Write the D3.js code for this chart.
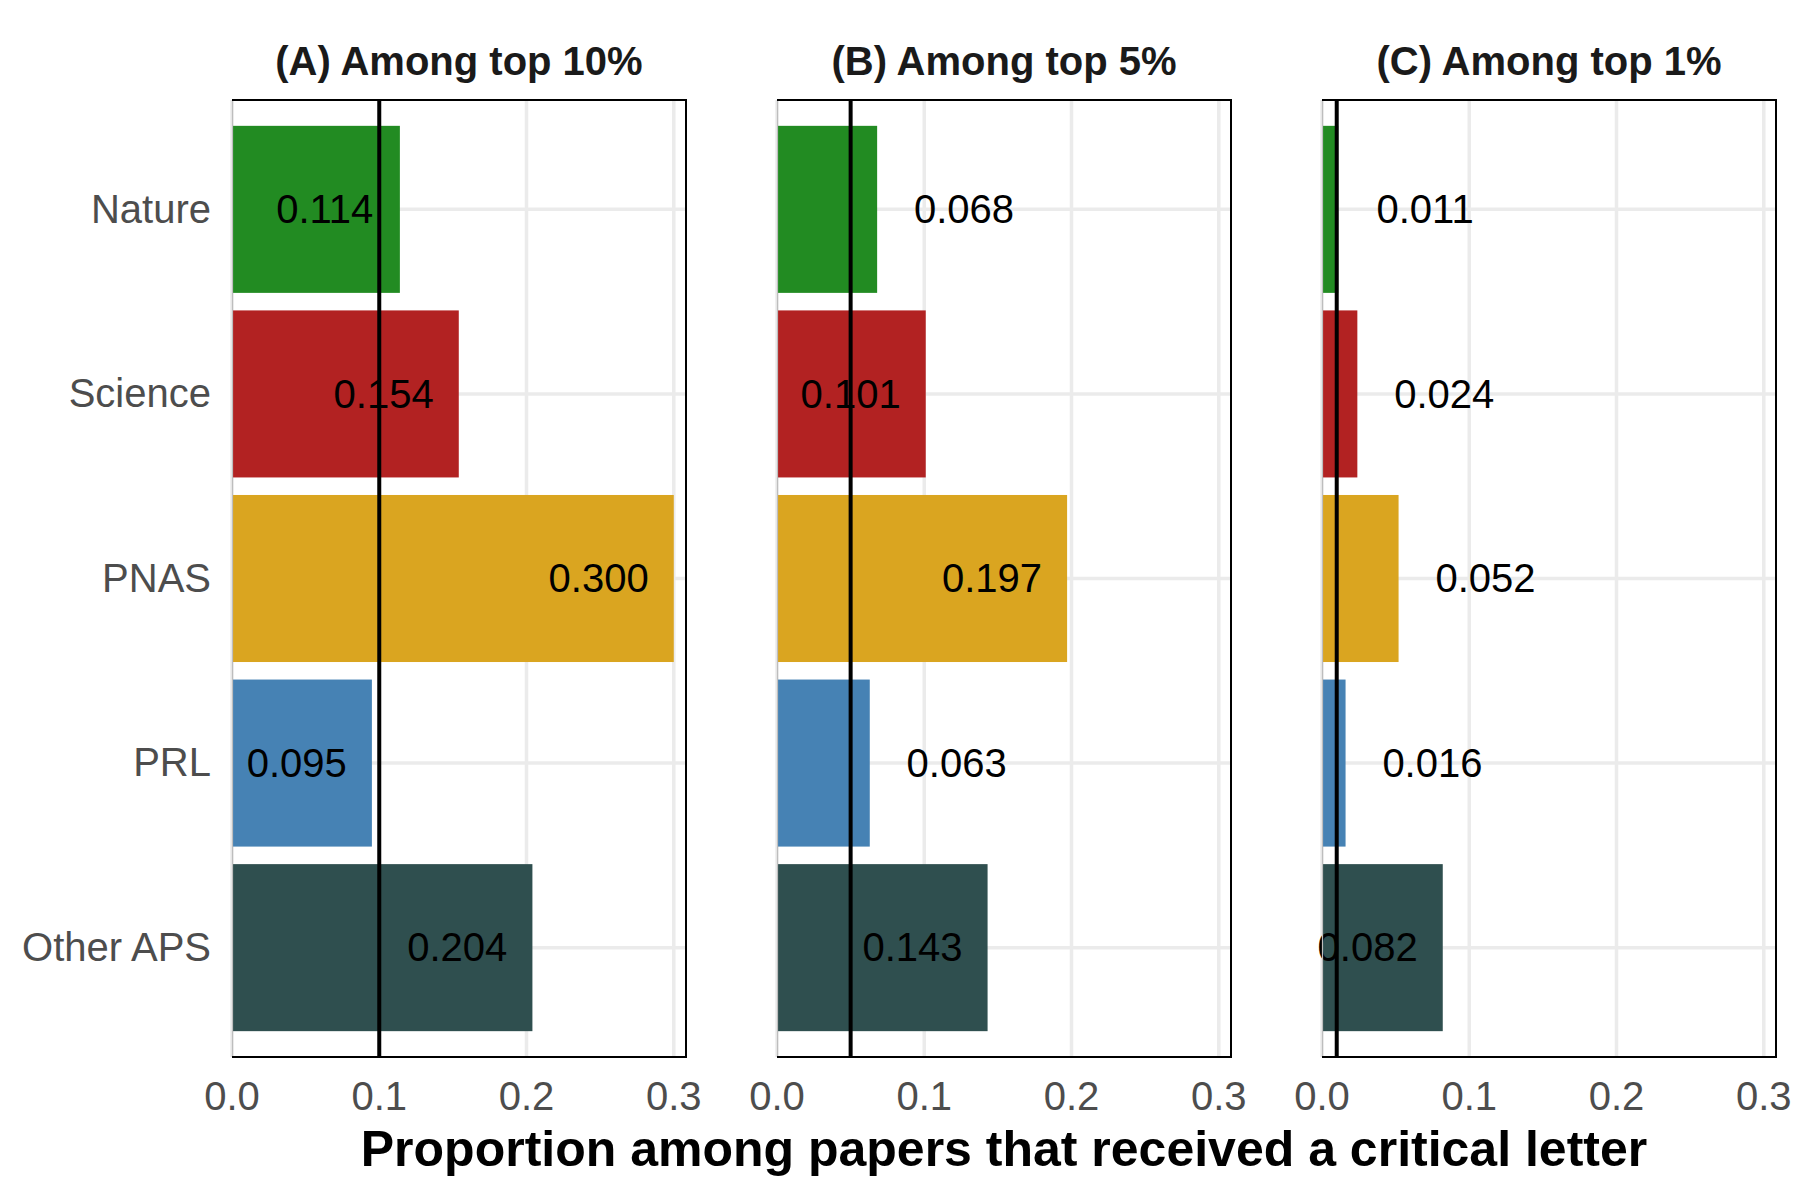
<!DOCTYPE html>
<html>
<head>
<meta charset="utf-8">
<script src="https://cdn.jsdelivr.net/npm/d3@7"></script>
<style>
  body { margin: 0; background: #fff; }
  text { font-family: "Liberation Sans", Arial, Helvetica, sans-serif; }
</style>
</head>
<body>
<svg id="chart" width="1800" height="1200"></svg>
<script>
// Data
const journals = ["Nature", "Science", "PNAS", "PRL", "Other APS"];
const top10 = [0.114, 0.154, 0.300, 0.095, 0.204];
const top5 = [0.068, 0.101, 0.197, 0.063, 0.143];
const top1 = [0.011, 0.024, 0.052, 0.016, 0.082];
const panelTitles = ["(A) Among top 10%", "(B) Among top 5%", "(C) Among top 1%"];
const refValues = [0.10, 0.05, 0.01];
const xTicks = [0, 0.1, 0.2, 0.3];
const colors = ["#228B22", "#B22222", "#DAA520", "#4682B4", "#2F4F4F"];
const xTitle = "Proportion among papers that received a critical letter";

const panels = [top10, top5, top1];

const svg = d3.select("#chart");
const plotTop = 100, plotBottom = 1057;
const panelLefts = [232, 777, 1322];
const panelW = 454;

const yScale = d3.scaleBand()
  .domain(journals)
  .range([plotTop, plotBottom])
  .paddingInner(0.095)
  .paddingOuter(0.14);

const color = d3.scaleOrdinal().domain(journals).range(colors);

panels.forEach((values, p) => {
  const left = panelLefts[p];
  const x = d3.scaleLinear().domain([0, 0.3083]).range([left, left + panelW]);
  const g = svg.append("g");

  // gridlines
  g.selectAll(".vgrid")
    .data(xTicks)
    .join("line")
    .attr("x1", d => x(d)).attr("x2", d => x(d))
    .attr("y1", plotTop).attr("y2", plotBottom)
    .attr("stroke", "#EBEBEB")
    .attr("stroke-width", 3.5);

  g.selectAll(".hgrid")
    .data(journals)
    .join("line")
    .attr("x1", left).attr("x2", left + panelW)
    .attr("y1", d => yScale(d) + yScale.bandwidth() / 2)
    .attr("y2", d => yScale(d) + yScale.bandwidth() / 2)
    .attr("stroke", "#EBEBEB")
    .attr("stroke-width", 3.5);

  // bars
  g.selectAll(".bar")
    .data(values)
    .join("rect")
    .attr("x", x(0))
    .attr("y", (d, i) => yScale(journals[i]))
    .attr("width", d => x(d) - x(0))
    .attr("height", yScale.bandwidth())
    .attr("fill", (d, i) => color(journals[i]));

  // value labels: inside the bar when it is long enough, otherwise right of it
  g.selectAll(".lab")
    .data(values)
    .join("text")
    .attr("x", d => d >= 0.075 ? x(d - 0.051) : x(d + 0.059))
    .attr("y", (d, i) => yScale(journals[i]) + yScale.bandwidth() / 2)
    .attr("dy", "0.34em")
    .attr("text-anchor", "middle")
    .attr("font-size", 40)
    .attr("fill", "#000")
    .text(d => d.toFixed(3));

  // reference line
  g.append("line")
    .attr("x1", x(refValues[p])).attr("x2", x(refValues[p]))
    .attr("y1", plotTop).attr("y2", plotBottom)
    .attr("stroke", "#000")
    .attr("stroke-width", 4);

  // panel border (left side light)
  g.append("line")
    .attr("x1", left + 0.5).attr("x2", left + 0.5)
    .attr("y1", plotTop).attr("y2", plotBottom)
    .attr("stroke", "#BDBDBD")
    .attr("stroke-width", 1.2);
  g.append("path")
    .attr("d", `M${left},${plotTop}H${left + panelW}V${plotBottom}H${left}`)
    .attr("fill", "none")
    .attr("stroke", "#000")
    .attr("stroke-width", 2);

  // x axis tick labels
  g.selectAll(".tick")
    .data(xTicks)
    .join("text")
    .attr("x", d => x(d))
    .attr("y", 1110)
    .attr("text-anchor", "middle")
    .attr("font-size", 40)
    .attr("fill", "#4D4D4D")
    .text(d => d.toFixed(1));

  // panel title
  g.append("text")
    .attr("x", left + panelW / 2)
    .attr("y", 75)
    .attr("text-anchor", "middle")
    .attr("font-size", 40)
    .attr("font-weight", "bold")
    .attr("fill", "#1A1A1A")
    .text(panelTitles[p]);
});

// y axis labels
svg.append("g")
  .selectAll("text")
  .data(journals)
  .join("text")
  .attr("x", 211)
  .attr("y", d => yScale(d) + yScale.bandwidth() / 2)
  .attr("dy", "0.33em")
  .attr("text-anchor", "end")
  .attr("font-size", 40)
  .attr("fill", "#4D4D4D")
  .text(d => d);

// x axis title
svg.append("text")
  .attr("x", (panelLefts[0] + panelLefts[2] + panelW) / 2)
  .attr("y", 1166)
  .attr("text-anchor", "middle")
  .attr("font-size", 50)
  .attr("font-weight", "bold")
  .attr("fill", "#000")
  .text(xTitle);
</script>
</body>
</html>
